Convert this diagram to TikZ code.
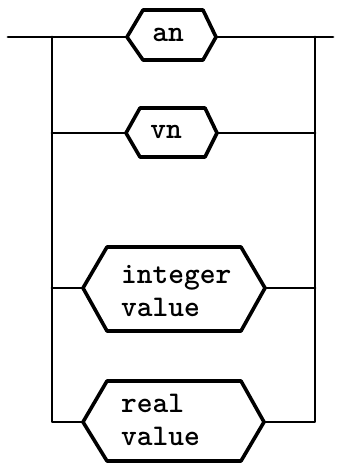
\documentclass[tikz,border=0pt]{standalone}
\usepackage{fontspec}
\tikzset{
  conn/.style={line width=2.7pt, line cap=round, line join=round},
  hexbox/.style={line width=3.6pt, line join=round},
  lbl/.style={font=\ttfamily\bfseries\fontsize{30}{33}\selectfont, inner sep=0pt, align=left},
}
\begin{document}
\begin{tikzpicture}[x=1pt,y=-1pt]
\useasboundingbox (0,0) rectangle (342,463);
% an
\draw[hexbox] (127,37) -- (143,10) -- (203,10) -- (216,37) -- (203,60) -- (143,60) -- cycle;
\coordinate (an-w) at (127,37); \coordinate (an-e) at (216,37);
\node[lbl, anchor=base] (an) at (168,41) {an};
% vn
\draw[hexbox] (126,133) -- (140,108) -- (205,108) -- (217,133) -- (205,157) -- (140,157) -- cycle;
\coordinate (vn-w) at (126,133); \coordinate (vn-e) at (217,133);
\node[lbl, anchor=base] (vn) at (166,138) {vn};
% integer value
\draw[hexbox] (83,288) -- (107,247) -- (241,247) -- (265,288) -- (241,331) -- (107,331) -- cycle;
\coordinate (iv-w) at (83,288); \coordinate (iv-e) at (265,288);
\node[lbl, anchor=base west] (iv) at (121,316) {integer\\value};
% real value
\draw[hexbox] (83,422) -- (107,381) -- (241,381) -- (264,422) -- (241,461) -- (107,461) -- cycle;
\coordinate (rv-w) at (83,422); \coordinate (rv-e) at (264,422);
\node[lbl, anchor=base west] (rv) at (121,445) {real\\value};
% connectors
\coordinate (start) at (8,37);
\coordinate (end) at (333,37);
\coordinate (L) at (52,37);
\coordinate (R) at (315,37);
\draw[conn] (start) -- (an-w);
\draw[conn] (an-e) -- (end);
\draw[conn] (L) |- (rv-w);
\draw[conn] (R) |- (rv-e);
\draw[conn] (L |- vn-w) -- (vn-w);
\draw[conn] (vn-e) -- (R |- vn-e);
\draw[conn] (L |- iv-w) -- (iv-w);
\draw[conn] (iv-e) -- (R |- iv-e);
\end{tikzpicture}
\end{document}
